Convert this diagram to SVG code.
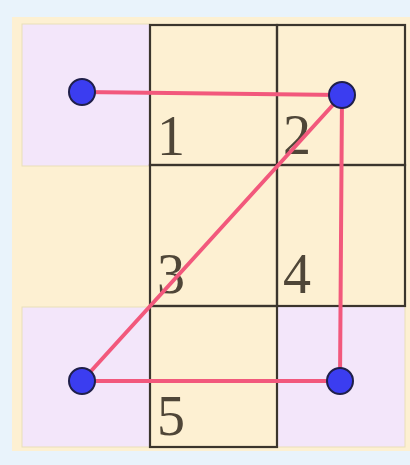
<svg xmlns="http://www.w3.org/2000/svg" width="410" height="465" viewBox="0 0 410 465">
<style>
.bg{fill:#e9f3fb}
.board{fill:#fdf0d2}
.pur{fill:#f3e6fa;stroke:#eadfb8;stroke-width:1}
.cell{fill:none;stroke:#3b352d;stroke-width:2.2}
.lbl{font-family:"Liberation Serif","Times New Roman",serif;font-size:56px;fill:#4f4638}
.edge{stroke:#f2587c;stroke-width:4;stroke-linecap:round;fill:none}
.dot{fill:#3b3df0;stroke:#1f1f4a;stroke-width:2}
</style>
<rect class="bg" x="0" y="0" width="410" height="465"/>
<rect class="board" x="12" y="17" width="398" height="434"/>
<g id="cells">
<rect class="pur" x="22" y="24" width="128" height="142"/>
<rect class="pur" x="22" y="307" width="128" height="140"/>
<rect class="pur" x="277" y="306" width="128" height="141"/>
<rect class="cell" x="150" y="25" width="127" height="140"/>
<rect class="cell" x="277" y="25" width="128" height="140"/>
<rect class="cell" x="150" y="165" width="127" height="141"/>
<rect class="cell" x="277" y="165" width="128" height="141"/>
<rect class="cell" x="150" y="306" width="127" height="141"/>
</g>
<g id="labels">
<text class="lbl" x="157" y="155">1</text>
<text class="lbl" x="283" y="154">2</text>
<text class="lbl" x="157" y="293">3</text>
<text class="lbl" x="283" y="293">4</text>
<text class="lbl" x="157" y="435">5</text>
</g>
<g id="connectors">
<line class="edge" x1="82" y1="92" x2="342" y2="95"/>
<line class="edge" x1="342" y1="95" x2="82" y2="381"/>
<line class="edge" x1="342" y1="95" x2="340" y2="381"/>
<line class="edge" x1="82" y1="381" x2="340" y2="381"/>
</g>
<g id="p1"><circle class="dot" cx="82" cy="92" r="13"/></g>
<g id="p2"><circle class="dot" cx="342" cy="95" r="13"/></g>
<g id="p3"><circle class="dot" cx="82" cy="381" r="13"/></g>
<g id="p4"><circle class="dot" cx="340" cy="381" r="13"/></g>
</svg>
